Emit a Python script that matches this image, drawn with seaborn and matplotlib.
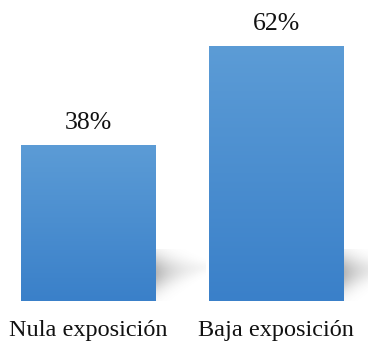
import numpy as np
import pandas as pd
import matplotlib
matplotlib.use("Agg")
import matplotlib.pyplot as plt
import seaborn as sns
from matplotlib.colors import LinearSegmentedColormap

categories = ["Nula exposición", "Baja exposición"]
values = [38, 62]
labels = ["38%", "62%"]


def add_shadow(ax, patch):
    # soft grey shadow at the lower right of a bar
    x1 = patch.get_x() + patch.get_width()
    y0 = patch.get_y()
    u = np.linspace(0, 1, 80)
    v = np.linspace(0, 1, 80)
    U, V = np.meshgrid(u, v)
    centre = 0.55 + 0.1 * U
    spread = 0.34 * (1 - 0.75 * U) + 0.02
    alpha = 0.45 * np.exp(-((V - centre) / spread) ** 2) * np.exp(-2.2 * U)
    img = np.zeros((80, 80, 4))
    img[..., :3] = 0.35
    img[..., 3] = alpha
    ax.imshow(img, extent=[x1, x1 + 0.27, y0, y0 + 12.5], origin="lower",
              aspect="auto", zorder=1, interpolation="bicubic")


def gradient_fill(ax, patch, cmap):
    x, y = patch.get_x(), patch.get_y()
    w, h = patch.get_width(), patch.get_height()
    grad = np.linspace(0, 1, 256).reshape(-1, 1)
    im = ax.imshow(grad, extent=[x, x + w, y, y + h], origin="lower",
                   aspect="auto", cmap=cmap, zorder=2)
    im.set_clip_path(patch)
    patch.set_facecolor("none")


def main():
    df = pd.DataFrame({"categoria": categories, "valor": values})
    fig = plt.figure(figsize=(3.68, 3.41), dpi=100)
    ax = fig.add_axes([0, 40 / 341, 1, 301 / 341])
    sns.barplot(data=df, x="categoria", y="valor", color="#4a8ed0",
                width=0.713, ax=ax, zorder=2)

    cmap = LinearSegmentedColormap.from_list("bar", ["#3a80c9", "#5c9cd6"])
    for patch, lab in zip(ax.patches, labels):
        add_shadow(ax, patch)
        gradient_fill(ax, patch, cmap)
        ax.text(patch.get_x() + patch.get_width() / 2,
                patch.get_height() + 2.6, lab, ha="center", va="bottom",
                fontsize=18.5, family="Liberation Serif", color="#111111")

    ax.set_xlim(-88 / 188, 280 / 188)
    ax.set_ylim(0, 73.1)
    ax.set_xticks(range(len(categories)))
    ax.set_xticklabels(categories, fontsize=17.5, family="Liberation Serif",
                       color="#111111")
    ax.tick_params(axis="x", length=0, pad=14)
    ax.set_yticks([])
    ax.set_xlabel("")
    ax.set_ylabel("")
    for s in ax.spines.values():
        s.set_visible(False)
    fig.savefig("out.png", dpi=100)


if __name__ == "__main__":
    main()
